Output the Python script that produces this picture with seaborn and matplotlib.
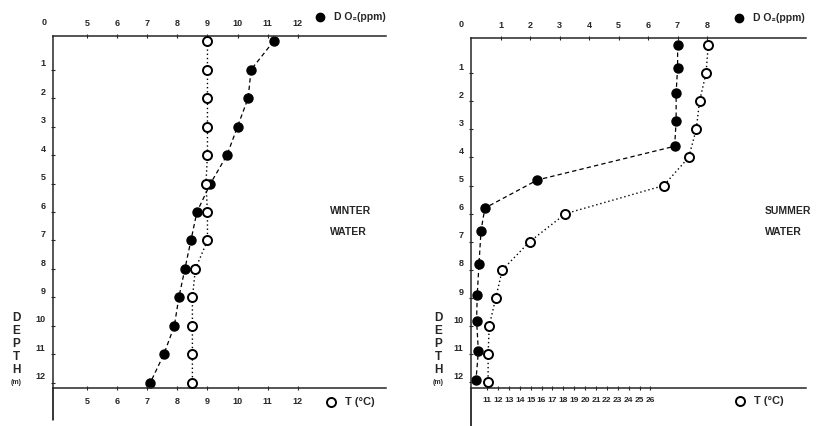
import matplotlib
matplotlib.use("Agg")
import matplotlib.pyplot as plt
from matplotlib.lines import Line2D
from matplotlib.transforms import ScaledTranslation
import seaborn as sns

# ---- data ----
# winter water (left panel)
winter_depth = [0, 1, 2, 3, 4, 5, 6, 7, 8, 9, 10, 11, 12]
winter_do2 = [11.2, 10.45, 10.35, 10.0, 9.65, 9.1, 8.65, 8.45, 8.25, 8.05, 7.9, 7.55, 7.1]
winter_temp = [9.0, 9.0, 9.0, 9.0, 9.0, 8.95, 9.0, 9.0, 8.6, 8.5, 8.5, 8.5, 8.5]

# summer water (right panel)
summer_do2_depth = [0, 0.8, 1.7, 2.7, 3.6, 4.8, 5.8, 6.6, 7.8, 8.9, 9.8, 10.9, 11.9]
summer_do2 = [7.0, 7.0, 6.95, 6.95, 6.9, 2.25, 0.47, 0.34, 0.27, 0.21, 0.19, 0.25, 0.17]
summer_temp_depth = [0, 1, 2, 3, 4, 5, 6, 7, 8, 9, 10, 11, 12]
summer_temp = [31.3, 31.1, 30.5, 30.2, 29.5, 27.2, 18.2, 14.9, 12.4, 11.8, 11.2, 11.1, 11.1]

winter_do2_ticks = [5, 6, 7, 8, 9, 10, 11, 12]
winter_temp_ticks = [5, 6, 7, 8, 9, 10, 11, 12]
summer_do2_ticks = [1, 2, 3, 4, 5, 6, 7, 8]
summer_temp_ticks = list(range(11, 27))
depth_ticks = list(range(1, 13))

sns.set_style("ticks")
plt.rcParams['font.family'] = ['Liberation Sans', 'DejaVu Sans']
plt.rcParams['font.weight'] = 'bold'

fig = plt.figure(figsize=(8.28, 4.26), dpi=100)

FS = 6.5


def panel(rect, do2_x, do2_y, t_x, t_y, xlim_do2, xlim_t, ylim,
          do2_ticks, t_ticks, tick_fs_t, spine_ext):
    ax = fig.add_axes(rect)
    ax2 = ax.twiny()

    sns.lineplot(x=do2_x, y=do2_y, ax=ax, sort=False, estimator=None,
                 color="black", linestyle=(0, (3.5, 2.5)), linewidth=0.9,
                 marker="o", markersize=6.5, markerfacecolor="black",
                 markeredgecolor="black", markeredgewidth=1)
    sns.lineplot(x=t_x, y=t_y, ax=ax2, sort=False, estimator=None,
                 color="black", linestyle=(0, (1, 2)), linewidth=1.0,
                 marker="o", markersize=6.5, markerfacecolor="white",
                 markeredgecolor="black", markeredgewidth=1.4)

    ax.set_xlim(*xlim_do2)
    ax2.set_xlim(*xlim_t)
    ax.set_ylim(*ylim)
    ax2.set_ylim(*ylim)

    # DO2 on top, temperature at the bottom
    ax.xaxis.set_ticks_position("top")
    ax.xaxis.set_label_position("top")
    ax2.xaxis.set_ticks_position("bottom")
    ax2.xaxis.set_label_position("bottom")

    ax.set_xticks(do2_ticks)
    ax2.set_xticks(t_ticks)
    ax.set_yticks(depth_ticks)
    ax.set_xlabel("")
    ax.set_ylabel("")
    ax2.set_xlabel("")
    ax2.set_ylabel("")

    ax.tick_params(axis="x", direction="inout", length=3, width=0.8,
                   labelsize=FS, pad=4)
    ax2.tick_params(axis="x", direction="inout", length=3, width=0.8,
                    labelsize=tick_fs_t, pad=5)
    ax.tick_params(axis="y", direction="inout", length=3, width=0.8,
                   labelsize=FS, pad=4)
    offset = ScaledTranslation(0, 5 / 72, fig.dpi_scale_trans)
    for lbl in ax.get_yticklabels():
        lbl.set_transform(lbl.get_transform() + offset)

    ax.spines["right"].set_visible(False)
    for s in ["top", "bottom", "left"]:
        ax.spines[s].set_linewidth(1.1)
    for s in ax2.spines.values():
        s.set_visible(False)
    ax.patch.set_alpha(0)

    # left axis runs on below the bottom line
    ax.plot([0, 0], [0, -spine_ext], transform=ax.transAxes, color="black",
            linewidth=1.1, clip_on=False)
    # origin label in the corner
    ax.text(-0.028, 1.025, "0", transform=ax.transAxes, fontsize=FS,
            ha="center", va="bottom", fontweight="bold")
    return ax


axl = panel([53 / 828, 38 / 426, 333 / 828, 352 / 426],
            winter_do2, winter_depth, winter_temp, winter_depth,
            (3.87, 14.93), (3.87, 14.93), (12.18, -0.18),
            winter_do2_ticks, winter_temp_ticks, FS, 0.09)

axr = panel([471 / 828, 38 / 426, 335 / 828, 350 / 426],
            summer_do2, summer_do2_depth, summer_temp, summer_temp_depth,
            (0, 11.35), (9.53, 40.27), (12.2, -0.25),
            summer_do2_ticks, summer_temp_ticks, 6.0, 0.11)

# vertical DEPTH (m) labels
for x0 in (16, 438):
    for i, ch in enumerate("DEPTH"):
        fig.text(x0 / 828, 1 - (318 + i * 13) / 426, ch, fontsize=8.5,
                 fontweight="bold", ha="center", va="center")
    fig.text(x0 / 828, 1 - 382 / 426, "(m)", fontsize=5, fontweight="bold",
             ha="center", va="center")

# key entries
for cx, cy, tx in ((320, 17, 334), (739, 18, 753)):
    fig.add_artist(Line2D([cx / 828], [1 - cy / 426], marker="o",
                          markersize=6, color="black",
                          transform=fig.transFigure))
    fig.text(tx / 828, 1 - cy / 426, "D O\u2082(ppm)", fontsize=7.5,
             fontweight="bold", ha="left", va="center")
for cx, cy, tx in ((331, 402, 345), (740, 401, 754)):
    fig.add_artist(Line2D([cx / 828], [1 - cy / 426], marker="o",
                          markersize=6.5, markerfacecolor="white",
                          markeredgecolor="black", markeredgewidth=1.4,
                          transform=fig.transFigure))
    fig.text(tx / 828, 1 - cy / 426, "T (\u00b0C)", fontsize=8,
             fontweight="bold", ha="left", va="center")

# water labels
fig.text(330 / 828, 1 - 211 / 426, "WINTER", fontsize=7.5, fontweight="bold",
         ha="left", va="center")
fig.text(330 / 828, 1 - 232 / 426, "WATER", fontsize=7.5, fontweight="bold",
         ha="left", va="center")
fig.text(765 / 828, 1 - 211 / 426, "SUMMER", fontsize=7.5, fontweight="bold",
         ha="left", va="center")
fig.text(765 / 828, 1 - 232 / 426, "WATER", fontsize=7.5, fontweight="bold",
         ha="left", va="center")

fig.savefig("out.png", dpi=100, facecolor="white")
